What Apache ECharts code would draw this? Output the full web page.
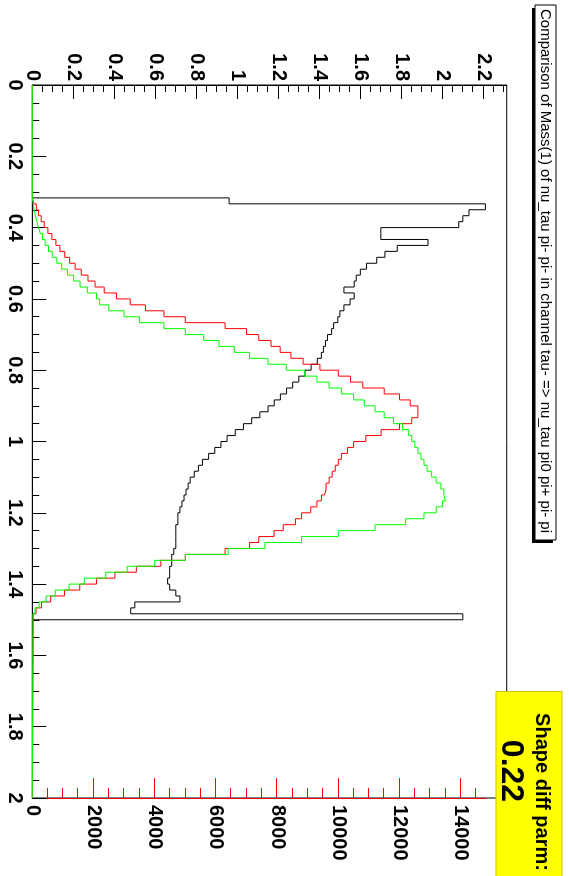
<!DOCTYPE html>
<html><head><meta charset="utf-8">
<script src="https://cdn.jsdelivr.net/npm/echarts@6/dist/echarts.min.js"></script>
<style>
html,body{margin:0;padding:0;background:#fff;overflow:hidden;width:569px;height:876px;}
#wrap{position:absolute;left:0;top:0;width:876px;height:569px;transform-origin:0 0;transform:translate(569px,0) rotate(90deg);}
</style></head><body>
<div id="wrap"></div>
<script>
// Histogram: 120 bins over [0,2], bin width 1/60; non-empty bins start at bin 19
const binsPerUnit = 60;
const firstBin = 19;
const redCounts = [60,130,200,290,390,510,640,770,900,1060,1220,1400,1600,1820,2050,2350,2750,3200,3700,4300,5000,6300,7000,7400,7800,8100,8450,8850,9400,10000,10400,10800,11500,12000,12350,12600,12600,12400,12000,11400,10900,10500,10300,10100,10000,9900,9800,9700,9600,9550,9450,9300,9100,8800,8600,8200,7900,7400,7100,6300,5000,4200,3400,2700,2100,1550,1050,600,300,120,30];
const greenCounts = [30,60,100,150,200,260,330,420,530,650,800,960,1150,1350,1560,1800,2100,2200,2500,3000,3500,4300,5000,5600,6100,6600,7100,7700,8300,8900,9300,9700,10100,10500,10850,11200,11500,11800,12100,12300,12400,12500,12600,12700,12800,12900,13050,13200,13350,13450,13500,13400,13200,12800,12200,11200,10000,8800,7600,6400,5000,4000,3100,2400,1700,1200,750,450,220,90,20];
const ratioValues = [0.96,2.21,2.13,2.10,2.08,1.70,1.70,1.93,1.78,1.72,1.68,1.63,1.60,1.58,1.57,1.52,1.57,1.55,1.52,1.50,1.49,1.47,1.46,1.44,1.43,1.42,1.41,1.39,1.36,1.33,1.30,1.27,1.24,1.21,1.18,1.15,1.11,1.07,1.03,0.99,0.95,0.92,0.89,0.86,0.83,0.81,0.79,0.77,0.76,0.75,0.74,0.73,0.72,0.71,0.71,0.70,0.70,0.70,0.70,0.69,0.68,0.68,0.67,0.67,0.66,0.67,0.70,0.72,0.50,0.48,2.10];
const massTickLabels = [0,0.2,0.4,0.6,0.8,1,1.2,1.4,1.6,1.8,2];
const ratioTickLabels = [0,0.2,0.4,0.6,0.8,1,1.2,1.4,1.6,1.8,2,2.2];
const countTickLabels = [0,2000,4000,6000,8000,10000,12000,14000];
const ratioMinorTicks = [0.05,0.1,0.15,0.25,0.3,0.35,0.45,0.5,0.55,0.65,0.7,0.75,0.85,0.9,0.95,1.05,1.1,1.15,1.25,1.3,1.35,1.45,1.5,1.55,1.65,1.7,1.75,1.85,1.9,1.95,2.05,2.1,2.15,2.25,2.3];
const countMinorTicks = [500,1000,1500,2500,3000,3500,4500,5000,5500,6500,7000,7500,8500,9000,9500,10500,11000,11500,12500,13000,13500,14500];
const titleText = 'Comparison of Mass(1) of nu_tau pi- pi- in channel tau- => nu_tau pi0 pi+ pi- pi-';
const diffLabel = 'Shape diff parm:';
const diffValue = '0.22';

function stepPoints(vals) {
  const pts = [[0, 0]];
  vals.forEach((v, k) => pts.push([(firstBin + k) / binsPerUnit, v]));
  pts.push([(firstBin + vals.length) / binsPerUnit, 0]);
  pts.push([2, 0]);
  return pts;
}
const FONT = "'Liberation Sans', Arial, Helvetica, sans-serif";
const fmt = v => String(+(+v).toFixed(3));
const lab = (extra) => Object.assign({fontFamily: FONT, fontSize: 20, fontWeight: 'bold', color: '#000', formatter: fmt}, extra);

const chart = echarts.init(document.getElementById('wrap'), null, {renderer: 'canvas', width: 876, height: 569});
const G0 = {left: 85, right: 78, top: 62.3, bottom: 32.3};
const G1 = {left: 85, right: 78, top: 83, bottom: 32.3};
chart.setOption({
  animation: false,
  backgroundColor: '#fff',
  grid: [
    Object.assign({show: true, borderColor: '#000', borderWidth: 1, backgroundColor: 'transparent'}, G0),
    Object.assign({show: false}, G1)
  ],
  xAxis: [
    {gridIndex: 0, type: 'value', min: 0, max: 2, interval: 0.2, position: 'bottom',
     axisLine: {onZero: false, lineStyle: {color: '#000', width: 1}},
     axisTick: {inside: true, length: 14, lineStyle: {color: '#000'}},
     minorTick: {show: true, splitNumber: 4, length: 7, lineStyle: {color: '#000'}},
     splitLine: {show: false}, minorSplitLine: {show: false},
     axisLabel: lab({margin: 8, customValues: massTickLabels})},
    {gridIndex: 1, type: 'value', min: 0, max: 2, show: false, splitLine: {show: false}}
  ],
  yAxis: [
    {gridIndex: 0, type: 'value', min: 0, max: 2.314, position: 'left',
     axisLine: {show: true, onZero: false, lineStyle: {color: '#000'}},
     axisTick: {show: true, inside: true, length: 14, customValues: ratioTickLabels, lineStyle: {color: '#000'}},
     splitLine: {show: false},
     axisLabel: lab({margin: 4, customValues: ratioTickLabels})},
    {gridIndex: 1, type: 'value', min: 0, max: 14827, position: 'right',
     axisLine: {show: true, onZero: false, lineStyle: {color: '#ff0000'}},
     axisTick: {show: true, inside: true, length: 20, customValues: countTickLabels, lineStyle: {color: '#ff0000'}},
     splitLine: {show: false},
     axisLabel: lab({margin: 7, customValues: countTickLabels})},
    {gridIndex: 0, type: 'value', min: 0, max: 2.314, position: 'left',
     axisLine: {show: false, onZero: false}, axisLabel: {show: false}, splitLine: {show: false},
     axisTick: {show: true, inside: true, length: 7, customValues: ratioMinorTicks, lineStyle: {color: '#000'}}},
    {gridIndex: 1, type: 'value', min: 0, max: 14827, position: 'right',
     axisLine: {show: false, onZero: false}, axisLabel: {show: false}, splitLine: {show: false},
     axisTick: {show: true, inside: true, length: 10, customValues: countMinorTicks, lineStyle: {color: '#ff0000'}}}
  ],
  series: [
    {type: 'line', name: 'ratio', xAxisIndex: 0, yAxisIndex: 0, step: 'end', symbol: 'none',
     lineStyle: {color: '#000', width: 1}, data: stepPoints(ratioValues), silent: true},
    {type: 'line', name: 'red', xAxisIndex: 1, yAxisIndex: 1, step: 'end', symbol: 'none',
     lineStyle: {color: '#ff0000', width: 1}, data: stepPoints(redCounts), silent: true},
    {type: 'line', name: 'green', xAxisIndex: 1, yAxisIndex: 1, step: 'end', symbol: 'none',
     lineStyle: {color: '#00ff00', width: 1}, data: stepPoints(greenCounts), silent: true}
  ],
  graphic: [
    {type: 'rect', shape: {x: 8, y: 16, width: 535, height: 21}, style: {fill: '#000'}, silent: true},
    {type: 'rect', shape: {x: 5, y: 13, width: 535, height: 21}, style: {fill: '#fff', stroke: '#000', lineWidth: 1}, silent: true},
    {type: 'text', x: 9, y: 23.5, silent: true,
     style: {text: titleText, fontFamily: FONT, fontSize: 15, fill: '#000', verticalAlign: 'middle', align: 'left',
             width: 529, overflow: 'truncate', ellipsis: ''}},
    {type: 'rect', shape: {x: 691.5, y: 7, width: 190, height: 66}, style: {fill: '#ffff00', stroke: '#c8c800', lineWidth: 1}, silent: true},
    {type: 'text', x: 792, y: 27.5, silent: true,
     style: {text: diffLabel, fontFamily: FONT, fontSize: 20, fontWeight: 'bold', fill: '#000', align: 'center', verticalAlign: 'middle'}},
    {type: 'text', x: 771, y: 58, silent: true,
     style: {text: diffValue, fontFamily: FONT, fontSize: 32, fontWeight: 'bold', fill: '#000', align: 'center', verticalAlign: 'middle'}}
  ]
});
</script>
</body></html>
